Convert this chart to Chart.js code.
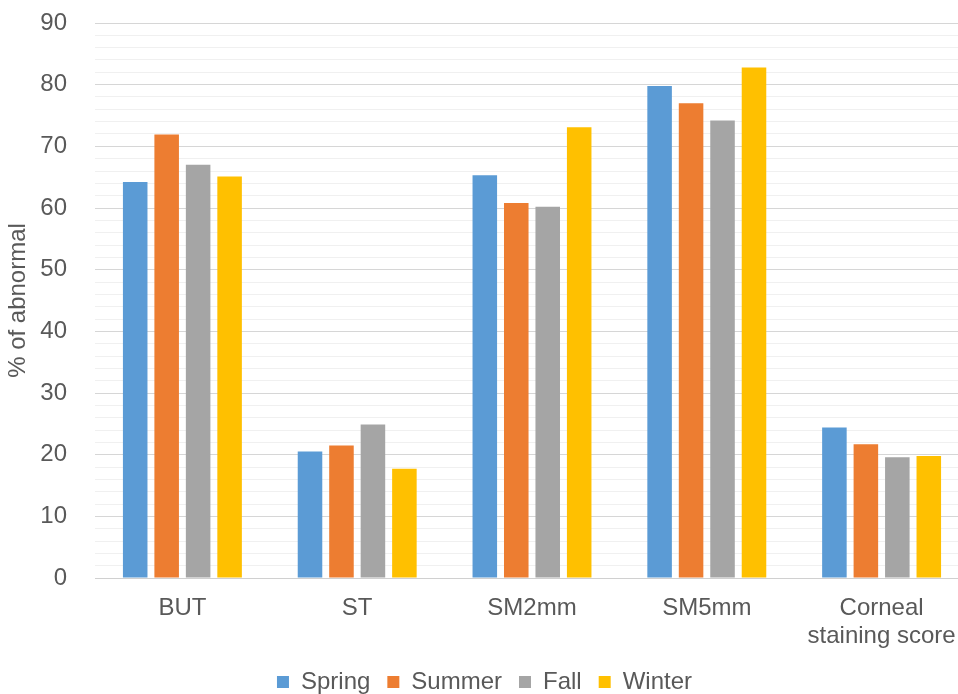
<!DOCTYPE html>
<html>
<head>
<meta charset="utf-8">
<script src="https://cdn.jsdelivr.net/npm/chart.js@4/dist/chart.umd.min.js"></script>
<style>
  html, body { margin: 0; padding: 0; background: #ffffff; overflow: hidden; }
  canvas { display: block; }
</style>
</head>
<body>
<canvas id="chart" width="978" height="694"></canvas>
<script>
// Share of abnormal results per test, by season
const categories = ['BUT', 'ST', 'SM2mm', 'SM5mm', ['Corneal', 'staining score']];
const seasons = ['Spring', 'Summer', 'Fall', 'Winter'];
const spring = [64.2, 20.5, 65.3, 79.8, 24.4];
const summer = [71.9, 21.5, 60.8, 77.0, 21.7];
const fall   = [67.0, 24.9, 60.2, 74.2, 19.6];
const winter = [65.1, 17.7, 73.1, 82.8, 19.8];
const colors = ['#5b9bd5', '#ed7d31', '#a5a5a5', '#ffc000'];
const yMax = 90;
const yStep = 2;
const yLabelEvery = 10;

const series = [spring, summer, fall, winter];
const textColor = '#595959';
const fontFamily = '"Liberation Sans", Arial, sans-serif';

new Chart(document.getElementById('chart'), {
  type: 'bar',
  data: {
    labels: categories,
    datasets: seasons.map((name, i) => ({
      label: name,
      data: series[i],
      backgroundColor: colors[i],
      borderWidth: 0,
      categoryPercentage: 0.72,
      barPercentage: 0.78
    }))
  },
  options: {
    responsive: false,
    animation: false,
    devicePixelRatio: 1,
    layout: { padding: { top: 23, right: 9, bottom: -10, left: 0 } },
    plugins: {
      tooltip: { enabled: false },
      legend: {
        position: 'bottom',
        labels: {
          boxWidth: 12,
          boxHeight: 12,
          padding: 17,
          color: textColor,
          font: { family: fontFamily, size: 24 }
        }
      }
    },
    scales: {
      x: {
        grid: { display: false, drawTicks: false },
        border: { display: true, color: '#d0d0d0', width: 1 },
        ticks: {
          color: textColor,
          padding: 16,
          autoSkip: false,
          maxRotation: 0,
          font: { family: fontFamily, size: 24, lineHeight: 1.17 }
        },
        afterFit(scale) {
          scale.height = 75;
          scale.paddingLeft = 0;
          scale.paddingRight = 0;
        }
      },
      y: {
        min: 0,
        max: yMax,
        border: { display: false },
        grid: {
          drawTicks: false,
          lineWidth: 1,
          color(ctx) {
            const v = ctx.tick ? ctx.tick.value : 0;
            if (v === 0) return '#d0d0d0';
            return v % yLabelEvery === 0 ? '#d6d6d6' : '#f0f0f0';
          }
        },
        ticks: {
          stepSize: yStep,
          maxTicksLimit: 100,
          autoSkip: false,
          padding: 28,
          color: textColor,
          font: { family: fontFamily, size: 24 },
          callback(v) { return v % yLabelEvery === 0 ? String(v) : ''; }
        },
        title: {
          display: true,
          text: '% of abnormal',
          color: textColor,
          font: { family: fontFamily, size: 24 }
        },
        afterFit(scale) {
          scale.width = 95;
          scale.paddingTop = 0;
          scale.paddingBottom = 0;
        }
      }
    }
  }
});
</script>
</body>
</html>
